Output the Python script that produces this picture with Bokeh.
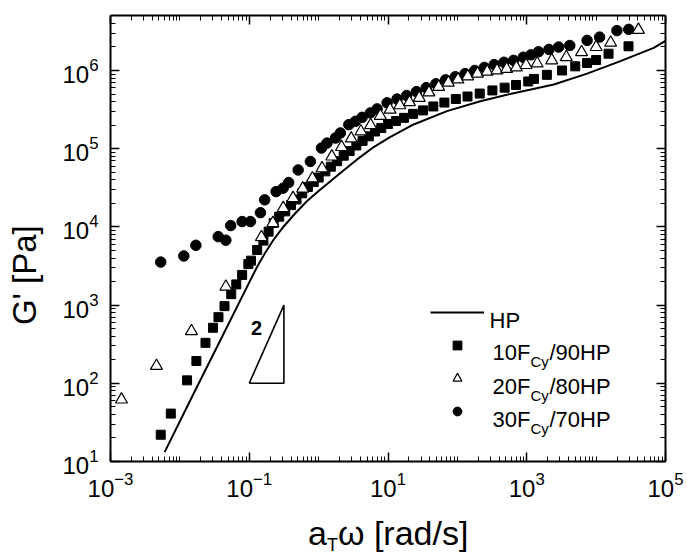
from math import pi
from bokeh.plotting import figure
from bokeh.layouts import column
from bokeh.models import (LogAxis, FixedTicker, Label, Legend, LegendItem,
                          CustomJSTickFormatter, Range1d, Div)
from bokeh.embed import file_html
from bokeh.resources import INLINE
from bokeh.core.properties import value

# ---------------- data ----------------
hp_x = [0.00603, 0.0158, 0.0398, 0.1, 0.13, 0.17, 0.225, 0.316, 0.447, 0.682, 1.0,
        2.06, 3.55, 6.22, 10.7, 23.4, 70.8, 214, 646, 2455, 7413, 22400, 67600, 100000]
hp_y = [13.2, 74, 380, 1950, 3090, 4680, 6900, 10200, 14500, 21400, 28800,
        49000, 72400, 105000, 141000, 204000, 302000, 405000, 513000, 661000,
        912000, 1318000, 1950000, 2400000]

f10_x = [0.0053, 0.0074, 0.0127, 0.0173, 0.0234, 0.030, 0.036, 0.044, 0.055, 0.065,
         0.079, 0.097, 0.106, 0.130, 0.16, 0.19, 0.225, 0.27, 0.33, 0.40, 0.48, 0.58,
         0.70, 0.85, 1.0, 1.25, 1.5, 1.85, 2.3, 2.8, 3.5, 4.3, 5.3, 6.5, 8.0, 10, 13,
         17, 23, 32, 45, 65, 95, 140, 210, 320, 480, 700, 1050, 1270, 1950, 3230,
         5000, 7400, 10000, 15100, 29300]
f10_y = [22, 41, 109, 193, 329, 513, 701, 970, 1380, 1840, 2430, 3350, 3700, 5070,
         6680, 8700, 11200, 13500, 15800, 19000, 22400, 26900, 32400, 37600, 42700,
         51300, 58900, 69200, 81300, 93300, 110000, 126000, 144000, 166000, 184000,
         207000, 226000, 248000, 279000, 309000, 347000, 389000, 432000, 465000,
         507000, 556000, 603000, 653000, 724000, 780000, 880000, 1000000, 1130000,
         1250000, 1360000, 1640000, 2040000]

f20_x = [0.00144, 0.0046, 0.0147, 0.046, 0.15, 0.219, 0.309, 0.427, 0.589, 0.813,
         1.12, 1.55, 2.14, 2.95, 4.07, 5.62, 7.76, 10.7, 14.8, 20.4, 28.2, 38.9,
         53.7, 74.1, 102, 141, 195, 269, 372, 513, 708, 977, 1413, 2291, 3715, 6166,
         10000, 16200, 40700]
f20_y = [62, 167, 464, 1717, 7400, 11200, 17400, 23400, 30900, 41700, 56200, 79400,
         105000, 135000, 166000, 200000, 263000, 316000, 359000, 394000, 447000,
         525000, 617000, 700000, 767000, 841000, 912000, 966000, 1000000, 1047000,
         1096000, 1175000, 1230000, 1349000, 1479000, 1718000, 1995000, 2265000,
         3311000]

f30_x = [0.0053, 0.0114, 0.017, 0.0357, 0.046, 0.054, 0.079, 0.104, 0.145, 0.167,
         0.244, 0.308, 0.37, 0.507, 0.76, 1.1, 1.32, 1.75, 2.06, 2.72, 3.39, 4.24,
         5.57, 6.97, 9.7, 13.5, 18.6, 25.7, 35.5, 49.0, 67.6, 93.3, 129, 178, 245,
         339, 468, 646, 891, 1148, 1479, 2089, 2884, 4169, 7413, 11220, 19950, 29510]
f30_y = [3550, 4250, 5820, 7510, 6760, 10400, 11700, 11700, 15200, 22200, 28300,
         31300, 36900, 53500, 68700, 102000, 118000, 137000, 159000, 203000, 224000,
         252000, 287000, 323000, 386000, 431000, 479000, 537000, 603000, 676000,
         759000, 832000, 912000, 1000000, 1096000, 1189000, 1274000, 1349000,
         1479000, 1585000, 1738000, 1862000, 1995000, 2089000, 2427000, 2673000,
         3236000, 3357000]

slope_x = [0.1, 0.316, 0.316, 0.1]
slope_y = [100, 100, 1000, 100]
slope_text = "2"

x_major = [1e-3, 1e-1, 1e1, 1e3, 1e5]
y_major = [1e1, 1e2, 1e3, 1e4, 1e5, 1e6]
x_minor = [m * 10.0 ** k for k in range(-3, 5) for m in range(1, 10)
           if not (m == 1 and k % 2 == 1)]
y_minor = [m * 10.0 ** k for k in range(1, 7) for m in range(2, 10)]

series_names = ["HP", "10F", "20F", "30F"]
y_title = "G' [Pa]"

SANS = "Liberation Sans"
TOP_H = 510          # main figure height
BOT_H = 557 - TOP_H  # strip holding the x-axis title

# ---------------- main figure ----------------
p = figure(width=687, height=TOP_H, x_axis_type="log", y_axis_type="log",
           x_range=Range1d(1e-3, 1e5), y_range=Range1d(10, 5.05e6),
           output_backend="svg", toolbar_location=None,
           min_border_left=110, min_border_right=22, min_border_top=15,
           min_border_bottom=TOP_H - 461)
p.xgrid.visible = False
p.ygrid.visible = False
p.outline_line_color = None
p.background_fill_color = "white"
p.border_fill_color = "white"


def style_axis(ax):
    ax.axis_line_width = 2
    ax.axis_line_color = "black"
    ax.major_tick_in = 9
    ax.major_tick_out = 0
    ax.minor_tick_in = 5
    ax.minor_tick_out = 0
    ax.major_tick_line_width = 1.5
    ax.minor_tick_line_width = 1
    ax.major_tick_line_color = "black"
    ax.minor_tick_line_color = "black"


xa = p.xaxis[0]
xa.ticker = FixedTicker(ticks=x_major, minor_ticks=x_minor)
style_axis(xa)
xa.major_label_text_font = SANS
xa.major_label_text_font_size = "24px"
xa.major_label_text_color = "black"
xa.major_label_standoff = 10

ya = p.yaxis[0]
ya.ticker = FixedTicker(ticks=y_major, minor_ticks=y_minor)
style_axis(ya)
ya.major_label_text_font = SANS
ya.major_label_text_font_size = "24px"
ya.major_label_text_color = "black"
ya.major_label_standoff = 12
ya.axis_label = y_title + "\u00a0" * 8
ya.axis_label_text_font = SANS
ya.axis_label_text_font_size = "33px"
ya.axis_label_text_font_style = "normal"
ya.axis_label_text_color = "black"
ya.axis_label_standoff = 16

blank = CustomJSTickFormatter(code="return ''")
top = LogAxis(ticker=FixedTicker(ticks=x_major, minor_ticks=x_minor),
              formatter=blank, major_label_standoff=0)
style_axis(top)
p.add_layout(top, "above")
right = LogAxis(ticker=FixedTicker(ticks=y_major, minor_ticks=y_minor),
                formatter=blank, major_label_standoff=0)
style_axis(right)
p.add_layout(right, "right")

# ---------------- data renderers ----------------
r_hp = p.line(hp_x, hp_y, line_color="black", line_width=2)
r10 = p.scatter(f10_x, f10_y, marker="square", size=9,
                fill_color="black", line_color="black")
r30 = p.scatter(f30_x, f30_y, marker="circle", size=10.5,
                fill_color="black", line_color="black")
r20 = p.scatter(f20_x, f20_y, marker="triangle", size=12,
                fill_color="white", line_color="black", line_width=1.2)
p.line(slope_x, slope_y, line_color="black", line_width=1.6)


# ---------------- annotation helpers (window px -> data coords) ----------------
def dx(px):
    return 10 ** (-3 + (px - 110) / 69.375)


def dy(py):
    return 10 ** (1 + (461 - py) / 78.2)


def add_text(fig, text, x, y, size, align="left", baseline="alphabetic",
             angle=0, style="normal"):
    fig.add_layout(Label(x=x, y=y, text=text, text_font=SANS,
                         text_font_size=f"{size}px", text_align=align,
                         text_baseline=baseline, angle=angle, text_color="black",
                         text_font_style=style))


# slope label
add_text(p, slope_text, dx(256), dy(328), 20, align="center", baseline="middle",
         style="bold")

# legend glyphs
legend = Legend(items=[LegendItem(label=value(" "), renderers=[r])
                       for r in (r_hp, r10, r20, r30)],
                location=(320, 39), glyph_width=54, glyph_height=22,
                label_height=22, label_width=0, label_standoff=0, spacing=11,
                padding=0, margin=0, border_line_color=None,
                background_fill_alpha=0, label_text_font_size="1px")
p.add_layout(legend)

# legend texts
add_text(p, series_names[0], dx(489), dy(320), 22)
rows = [(series_names[1], "/90HP", 352), (series_names[2], "/80HP", 386),
        (series_names[3], "/70HP", 419)]
for main, tail, base in rows:
    add_text(p, main, dx(492), dy(base), 22)
    add_text(p, "Cy", dx(530), dy(base + 9), 15)
    add_text(p, tail, dx(549), dy(base), 22)

# ---------------- x-axis title (with subscript) below the figure ----------------
x_title_html = (
    '<div style="white-space:nowrap;margin:0;padding:0;position:relative;'
    'left:308px;top:6px;font-family:\'Liberation Sans\',Arial,sans-serif;'
    'font-size:34px;line-height:34px;color:#000;">'
    'a<span style="font-size:18px;position:relative;top:6px;">T</span>'
    '\u03c9 [rad/s]</div>'
)
xt = Div(text=x_title_html, width=687, height=BOT_H, margin=0)

open("out.html", "w").write(file_html(column(p, xt, spacing=0), INLINE))
